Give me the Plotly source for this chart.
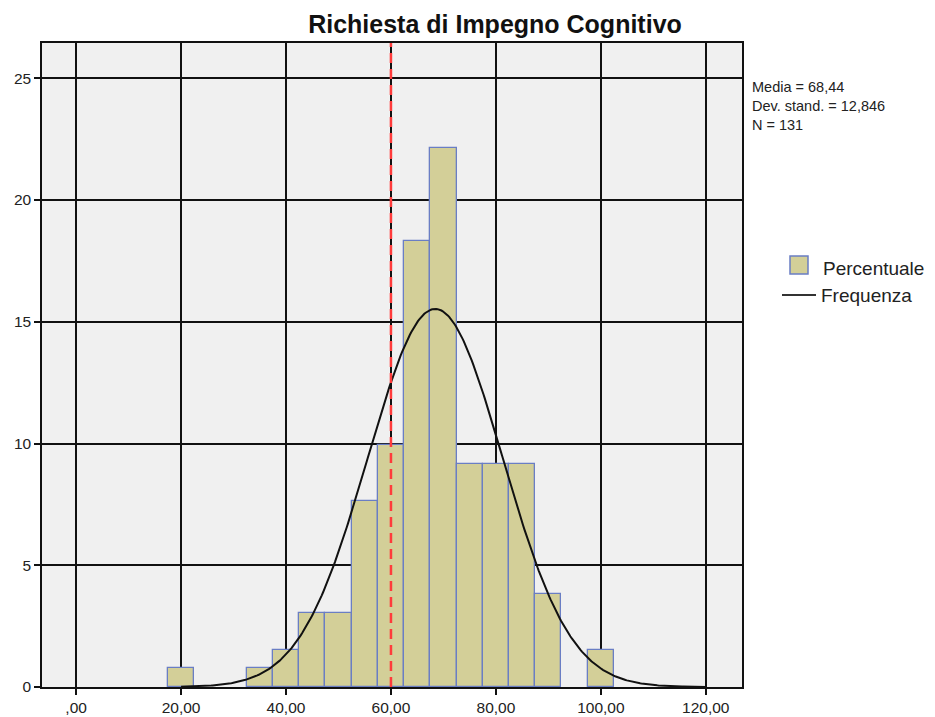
import numpy as np
import plotly.graph_objects as go

# Histogram bins (centre of each 5-point bin) and counts out of N = 131
bin_centers = [20, 35, 40, 45, 50, 55, 60, 65, 70, 75, 80, 85, 90, 100]
counts = [1, 1, 2, 4, 4, 10, 13, 24, 29, 12, 12, 12, 5, 2]
n_total = 131
bin_width = 5
mean_val = 68.44
sd_val = 12.846
ref_line = 60
x_ticks = [0, 20, 40, 60, 80, 100, 120]
x_tick_labels = [",00", "20,00", "40,00", "60,00", "80,00", "100,00", "120,00"]
y_ticks = [0, 5, 10, 15, 20, 25]
stats_lines = ["Media = 68,44", "Dev. stand. = 12,846", "N = 131"]

percent = [c / n_total * 100 for c in counts]

FONT = "Liberation Sans, Arial, sans-serif"
BAR_FILL = "#d3cf98"
BAR_EDGE = "#6a7ec4"
W, H = 935, 717
L, R, T, B = 42, 193, 43, 30
PW, PH = W - L - R, H - T - B


def px_x(p):
    return (p - L) / PW


def px_y(p):
    return 1 - (p - T) / PH


# Normal curve scaled to percent per bin
xc = np.linspace(20, 120, 400)
yc = bin_width * 100 / (sd_val * np.sqrt(2 * np.pi)) * np.exp(-0.5 * ((xc - mean_val) / sd_val) ** 2)

fig = go.Figure()
fig.add_trace(go.Bar(
    x=bin_centers, y=percent, width=bin_width, name="Percentuale",
    marker=dict(color=BAR_FILL, line=dict(color=BAR_EDGE, width=1.3)),
))
fig.add_trace(go.Scatter(
    x=xc, y=yc, mode="lines", name="Frequenza",
    line=dict(color="#111111", width=2),
))

# Red dashed reference line over the black grid line
fig.add_shape(type="line", xref="x", yref="paper", x0=ref_line, x1=ref_line, y0=0, y1=1,
              line=dict(color="#ff3b3b", width=2.5, dash="10px,6px"), layer="above")

axis_common = dict(
    showgrid=True, gridcolor="#111111", gridwidth=1.5,
    ticks="outside", ticklen=6, tickcolor="#111111", tickwidth=1.5,
    showline=True, linecolor="#111111", linewidth=1.5, mirror=True,
    zeroline=False, automargin=False, tickfont=dict(size=15.5, color="#222222"),
)

fig.update_layout(
    width=W, height=H,
    margin=dict(l=L, r=R, t=T, b=B),
    paper_bgcolor="white", plot_bgcolor="#f0f0f0",
    font=dict(family=FONT, size=16, color="#222222"),
    bargap=0,
    title=dict(text="<b>Richiesta di Impegno Cognitivo</b>", x=495 / W, xanchor="center",
               y=1 - 24 / H, yanchor="middle",
               font=dict(family=FONT, size=25, color="#111111")),
    showlegend=False,
    xaxis=dict(range=[-6.5, 126.9], tickvals=x_ticks, ticktext=x_tick_labels, **axis_common),
    yaxis=dict(range=[0, 26.45], tickvals=y_ticks, **axis_common),
)

# Summary statistics block
fig.add_annotation(
    text="<br>".join(stats_lines), xref="paper", yref="paper", x=px_x(750), y=px_y(77),
    xanchor="left", yanchor="top", align="left", showarrow=False,
    font=dict(size=14.5, color="#222222"),
)

# Legend: filled swatch for the bars, line sample for the curve
fig.add_shape(type="rect", xref="paper", yref="paper",
              x0=px_x(790), x1=px_x(808), y0=px_y(274), y1=px_y(256),
              fillcolor=BAR_FILL, line=dict(color=BAR_EDGE, width=1.5))
fig.add_shape(type="line", xref="paper", yref="paper",
              x0=px_x(782), x1=px_x(816), y0=px_y(295), y1=px_y(295),
              line=dict(color="#333333", width=2))
fig.add_annotation(text="Percentuale", xref="paper", yref="paper", x=px_x(821), y=px_y(268),
                   xanchor="left", yanchor="middle", showarrow=False,
                   font=dict(size=19, color="#222222"))
fig.add_annotation(text="Frequenza", xref="paper", yref="paper", x=px_x(819), y=px_y(295),
                   xanchor="left", yanchor="middle", showarrow=False,
                   font=dict(size=19, color="#222222"))

fig.write_html("out.html")
